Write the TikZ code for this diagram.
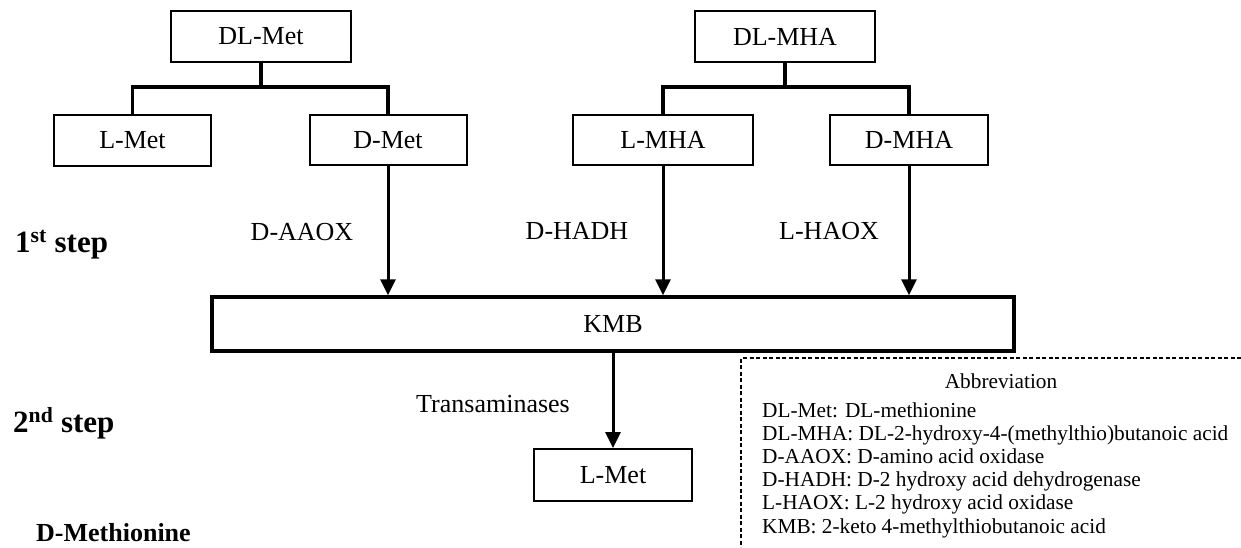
\documentclass[tikz,border=0pt]{standalone}
\usepackage{fontspec}
\setmainfont{Liberation Serif}
\usetikzlibrary{arrows.meta}
\begin{document}
\begin{tikzpicture}[x=1pt,y=-1pt,
  box/.style={draw,line width=2pt,inner sep=0pt,font=\fontsize{26}{30}\selectfont},
  lbl/.style={inner sep=0pt,font=\fontsize{26}{30}\selectfont},
  branch/.style={line width=3.4pt},
  arr/.style={line width=3pt,-{Triangle[length=16pt,width=15pt]}},
  steplbl/.style={inner sep=0pt,anchor=base west,font=\fontsize{31}{34}\selectfont\bfseries},
  abbr/.style={inner sep=0pt,anchor=base west,font=\fontsize{21.3}{24}\selectfont}]
\useasboundingbox (0,0) rectangle (1241,547);
% boxes
\node[box,minimum width=180pt,minimum height=51pt] (dlmet) at (261,36.5) {DL-Met};
\node[box,minimum width=157pt,minimum height=51pt] (lmet1) at (132.5,140) {L-Met};
\node[box,minimum width=157pt,minimum height=50pt] (dmet) at (388,140) {D-Met};
\node[box,minimum width=180pt,minimum height=51pt] (dlmha) at (785,36.5) {DL-MHA};
\node[box,minimum width=180pt,minimum height=50pt] (lmha) at (663,140) {L-MHA};
\node[box,minimum width=158pt,minimum height=50pt] (dmha) at (909,140) {D-MHA};
\node[box,line width=3.5pt,minimum width=802pt,minimum height=54pt] (kmb) at (613,324) {KMB};
\node[box,minimum width=158pt,minimum height=52pt] (lmet2) at (613,475) {L-Met};
% branches
\coordinate (j1) at (261,87);
\coordinate (j2) at (785,87);
\draw[branch] (dlmet.south) -- (j1);
\draw[branch] (lmet1.north) |- (j1) -| (dmet.north);
\draw[branch] (dlmha.south) -- (j2);
\draw[branch] (lmha.north) |- (j2) -| (dmha.north);
% arrows
\draw[arr] (dmet.south) -- (dmet.south |- kmb.north);
\draw[arr] (lmha.south) -- (lmha.south |- kmb.north);
\draw[arr] (dmha.south) -- (dmha.south |- kmb.north);
\draw[arr] (kmb.south) -- (lmet2.north);
% enzyme labels
\node[lbl] (daaox) at (302,232) {D-AAOX};
\node[lbl] (dhadh) at (577,231) {D-HADH};
\node[lbl] (lhaox) at (829,231) {L-HAOX};
\node[lbl] (trans) at (493,404) {Transaminases};
% step labels
\node[steplbl] (s1) at (15,252) {1\textsuperscript{st} step};
\node[steplbl] (s2) at (13,432) {2\textsuperscript{nd} step};
\node[inner sep=0pt,anchor=base west,font=\fontsize{26}{30}\selectfont\bfseries] (dmeth) at (36,541) {D-Methionine};
% legend
\draw[line width=1.2pt,dash pattern=on 4pt off 2.5pt] (1241,358) -- (741,358) -- (741,547);
\node[inner sep=0pt,anchor=base,font=\fontsize{21.3}{24}\selectfont] (abh) at (1001,388) {Abbreviation};
\node[abbr] (a1) at (762,417) {DL-Met: DL-methionine};
\node[abbr] (a2) at (762,440.2) {DL-MHA: DL-2-hydroxy-4-(methylthio)butanoic acid};
\node[abbr] (a3) at (762,463.4) {D-AAOX: D-amino acid oxidase};
\node[abbr] (a4) at (762,486.6) {D-HADH: D-2 hydroxy acid dehydrogenase};
\node[abbr] (a5) at (762,509.8) {L-HAOX: L-2 hydroxy acid oxidase};
\node[abbr] (a6) at (762,533) {KMB: 2-keto 4-methylthiobutanoic acid};
\end{tikzpicture}
\end{document}
